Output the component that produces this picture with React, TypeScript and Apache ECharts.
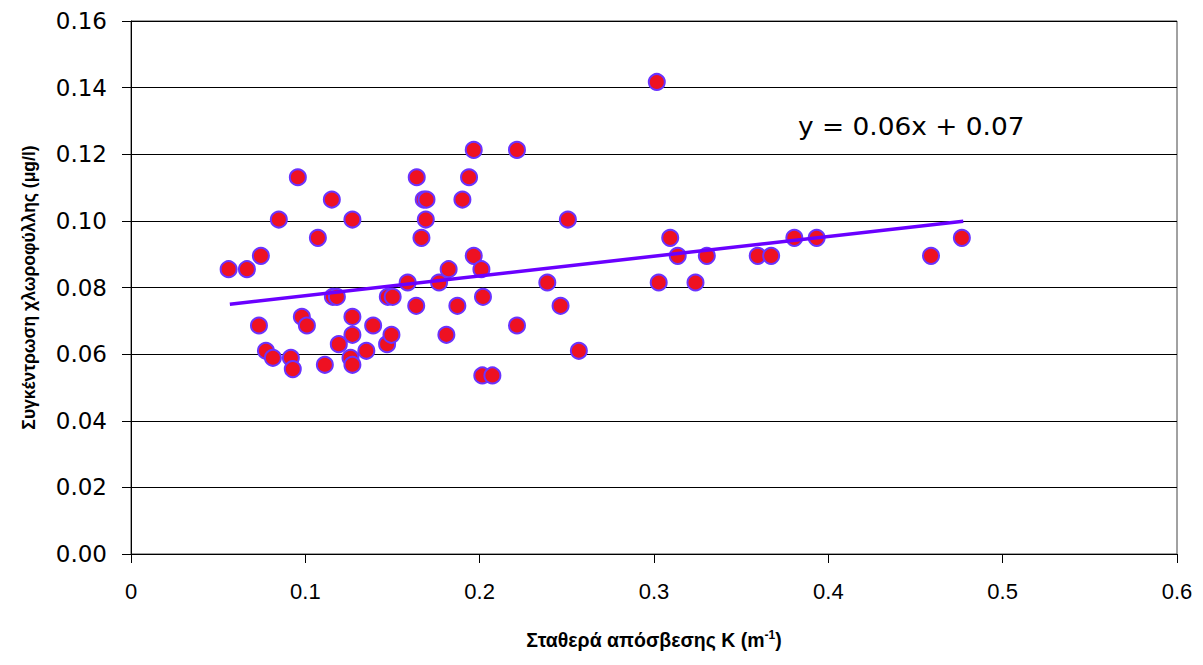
import React, { useEffect, useRef } from "react";
import * as echarts from "echarts";

// Extinction coefficient K (m^-1)
const kValues = [
  0.056, 0.0665, 0.0745, 0.0734, 0.0774, 0.0814, 0.0848, 0.0917, 0.0928, 0.0957,
  0.098, 0.1009, 0.1072, 0.1112, 0.1152, 0.1158, 0.1181, 0.1192, 0.127, 0.127,
  0.127, 0.1259, 0.127, 0.135, 0.1389, 0.1473, 0.1501, 0.1469, 0.1494, 0.1587,
  0.1639, 0.1636, 0.1666, 0.1679, 0.1695, 0.1691, 0.1767, 0.1809, 0.1822, 0.1872,
  0.1901, 0.1939, 0.1966, 0.1966, 0.201, 0.2019, 0.2015, 0.2073, 0.2214, 0.2214,
  0.2388, 0.2464, 0.2506, 0.2569, 0.3016, 0.3027, 0.3093, 0.3136, 0.3238, 0.3303,
  0.3595, 0.3672, 0.3805, 0.3933, 0.4589, 0.4766,
];

// Chlorophyll concentration (μg/l)
const chlValues = [
  0.0855, 0.0855, 0.0895, 0.0686, 0.061, 0.0589, 0.1004, 0.0589, 0.0555, 0.1131,
  0.0712, 0.0686, 0.0949, 0.0568, 0.1064, 0.0772, 0.0772, 0.063, 0.1004, 0.0712,
  0.0658, 0.0589, 0.0568, 0.061, 0.0686, 0.0772, 0.0772, 0.063, 0.0658, 0.0815,
  0.1131, 0.0745, 0.0949, 0.1064, 0.1064, 0.1004, 0.0815, 0.0658, 0.0855, 0.0745,
  0.1064, 0.1131, 0.1213, 0.0895, 0.0855, 0.0772, 0.0536, 0.0536, 0.1213, 0.0686,
  0.0815, 0.0745, 0.1004, 0.061, 0.1417, 0.0815, 0.0949, 0.0895, 0.0815, 0.0895,
  0.0895, 0.0895, 0.0949, 0.0949, 0.0895, 0.0949,
];

// Linear trend line end points (y = 0.06x + 0.07)
const trendX = [0.0567, 0.4774];
const trendY = [0.075, 0.0999];

const xTicks = { min: 0, max: 0.6, interval: 0.1 };
const yTicks = { min: 0, max: 0.16, interval: 0.02 };

const equationLabel = "y = 0.06x + 0.07";
const xAxisTitle = "Σταθερά απόσβεσης K (m";
const xAxisSup = "-1";
const yAxisTitle = "Συγκέντρωση χλωροφύλλης (μg/l)";

const narrow = "Liberation Sans Narrow, Liberation Sans, Arial, sans-serif";

export default function App() {
  const ref = useRef<HTMLDivElement>(null);
  useEffect(() => {
    if (!ref.current) return;
    const chart = echarts.init(ref.current, null, { renderer: "svg" });
    const pts = kValues.map((k, i) => [k, chlValues[i]]);
    const trend = trendX.map((x, i) => [x, trendY[i]]);
    chart.setOption({
      animation: false,
      backgroundColor: "#ffffff",
      grid: {
        left: 131,
        right: 26,
        top: 21,
        bottom: 111,
        show: true,
        borderColor: "#444",
        borderWidth: 1,
        backgroundColor: "transparent",
      },
      xAxis: {
        type: "value",
        min: xTicks.min,
        max: xTicks.max,
        interval: xTicks.interval,
        axisLine: { show: true, onZero: false, lineStyle: { color: "#000", width: 1 } },
        axisTick: { show: true, length: 9, lineStyle: { color: "#000" } },
        splitLine: { show: false },
        axisLabel: {
          color: "#000",
          fontSize: 22,
          fontFamily: narrow,
          margin: 26,
          formatter: (v: number) => (v === 0 ? "0" : String(Math.round(v * 10) / 10)),
        },
        name: "{a|" + xAxisTitle + "}{s|" + xAxisSup + "}{a|)}",
        nameLocation: "middle",
        nameGap: 75,
        nameTextStyle: {
          rich: {
            a: { fontSize: 19.5, fontWeight: "bold", color: "#000", fontFamily: narrow },
            s: {
              fontSize: 12,
              fontWeight: "bold",
              color: "#000",
              fontFamily: narrow,
              verticalAlign: "top",
              padding: [0, 0, 10, 0],
            },
          },
        },
      },
      yAxis: {
        type: "value",
        min: yTicks.min,
        max: yTicks.max,
        interval: yTicks.interval,
        axisLine: { show: true, lineStyle: { color: "#000", width: 1 } },
        axisTick: { show: true, length: 9, lineStyle: { color: "#000" } },
        splitLine: { show: true, lineStyle: { color: "#000", width: 1 } },
        axisLabel: {
          color: "#000",
          fontSize: 23,
          fontFamily: "DejaVu Sans, sans-serif",
          margin: 24,
          formatter: (v: number) => v.toFixed(2),
        },
        name: yAxisTitle,
        nameLocation: "middle",
        nameRotate: 90,
        nameGap: 93,
        nameTextStyle: {
          fontSize: 17.5,
          fontWeight: "bold",
          color: "#000",
          fontFamily: narrow,
        },
      },
      graphic: [
        {
          type: "text",
          left: 798,
          top: 115,
          scaleX: 1.1,
          style: {
            text: equationLabel,
            fontSize: 24,
            fontFamily: "DejaVu Sans, sans-serif",
            fill: "#000",
          },
        },
      ],
      series: [
        {
          type: "scatter",
          data: pts,
          symbol: "circle",
          symbolSize: 16,
          itemStyle: { color: "#ee1122", borderColor: "#6a33ff", borderWidth: 2, opacity: 1 },
          z: 2,
        },
        {
          type: "line",
          data: trend,
          symbol: "none",
          lineStyle: { color: "#6a00ff", width: 3.5 },
          z: 3,
        },
      ],
    });
    return () => chart.dispose();
  }, []);
  return <div ref={ref} style={{ width: 1203, height: 665, margin: -8 }} />;
}
